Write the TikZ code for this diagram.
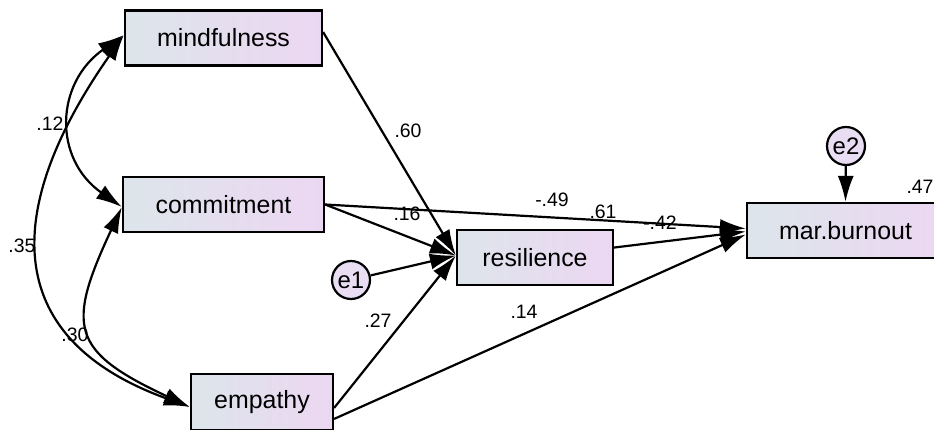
\documentclass[tikz,border=0pt]{standalone}
\usepackage{fontspec}
\setmainfont{Liberation Sans}
\usetikzlibrary{arrows.meta}
\definecolor{boxL}{HTML}{DDE5EB}
\definecolor{boxR}{HTML}{ECD7F2}
\definecolor{errfill}{HTML}{E8DDF2}

\begin{document}
\begin{tikzpicture}[x=1bp,y=1bp,>={Latex[length=26bp,width=16bp]},
    box/.style={draw,line width=2.2bp,left color=boxL,right color=boxR,
      inner sep=0pt,font=\fontsize{25}{28}\selectfont},
    err/.style={circle,draw,line width=2.2bp,fill=errfill,minimum size=38bp,
      inner sep=0pt,font=\fontsize{24}{27}\selectfont},
    coef/.style={inner sep=0pt,font=\fontsize{19.5}{22}\selectfont},
    reg/.style={line width=2.2bp,->},
    cov/.style={line width=2.2bp,<->}]
    \useasboundingbox (0,0) rectangle (934,429);
    % observed variables
    \node[box,minimum width=197bp,minimum height=55bp] (mind) at (223.5,391) {mindfulness};
    \node[box,minimum width=201bp,minimum height=55bp] (comm) at (223.5,224.5) {commitment};
    \node[box,minimum width=142bp,minimum height=56bp] (emp) at (262,27) {empathy};
    \node[box,minimum width=156bp,minimum height=55bp] (res) at (535,171.5) {resilience};
    \node[box,minimum width=197bp,minimum height=55bp] (burn) at (845.5,198.5) {mar.burnout};
    % errors
    \node[err] (e1) at (351,149) {e1};
    \node[err] (e2) at (846,283) {e2};
    % paths
    \draw[reg] ([yshift=6]mind.east) -- ([yshift=2]res.west);
    \draw[reg] (comm.east) -- ([yshift=2]res.west);
    \draw[reg] (e1) -- ([yshift=2]res.west);
    \draw[reg] ([yshift=-6]emp.east) -- ([yshift=2]res.west);
    \draw[reg] (comm.east) -- ([yshift=2]burn.west);
    \draw[reg] ([yshift=10]res.east) -- ([yshift=-1]burn.west);
    \draw[reg] ([yshift=-17]emp.east) -- ([yshift=-4]burn.west);
    \draw[reg] (e2) -- (burn.north);
    % covariances
    \draw[cov] ([yshift=3]mind.west) to[out=215,in=145,looseness=1.25] ([yshift=-2.5]comm.west);
    \draw[cov] ([yshift=3]mind.west) to[out=235,in=160,looseness=1.4] ([yshift=-5]emp.west);
    \draw[cov] ([yshift=-2.5]comm.west) to[out=245,in=155,looseness=1.6] ([yshift=-5]emp.west);
    % estimates
    \node[coef] (k60) at (408,298) {.60};
    \node[coef] (k12) at (50,305) {.12};
    \node[coef] (k35) at (22,183) {.35};
    \node[coef] (k30) at (75,94) {.30};
    \node[coef] (k16) at (407,215) {.16};
    \node[coef] (k49) at (552,229) {-.49};
    \node[coef] (k61) at (603,217) {.61};
    \node[coef] (k42) at (660,206) {-.42};
    \node[coef] (k27) at (378,108) {.27};
    \node[coef] (k14) at (524,117) {.14};
    \node[coef] (k47) at (920,242) {.47};
\end{tikzpicture}
\end{document}
